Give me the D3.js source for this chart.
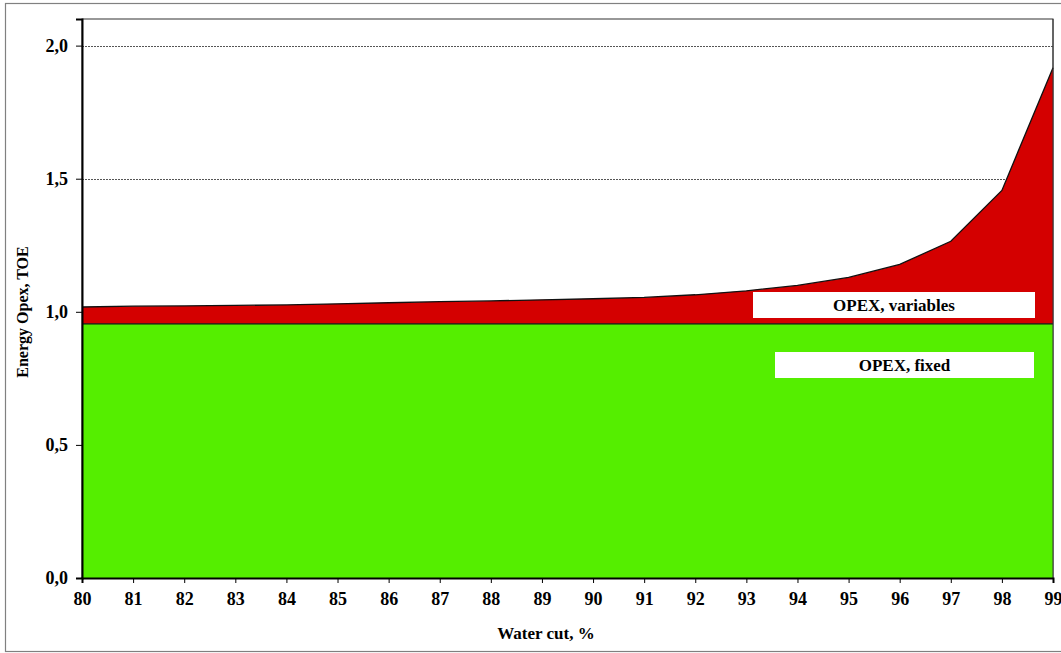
<!DOCTYPE html>
<html><head><meta charset="utf-8">
<script src="https://cdn.jsdelivr.net/npm/d3@7/dist/d3.min.js"></script>
<style>
html,body{margin:0;padding:0;background:#fff;}
svg{display:block;}
</style></head>
<body>
<svg id="chart" width="1061" height="653"></svg>
<script>
const waterCut = [80,81,82,83,84,85,86,87,88,89,90,91,92,93,94,95,96,97,98,99];
const opexFixed = [0.955,0.955,0.955,0.955,0.955,0.955,0.955,0.955,0.955,0.955,0.955,0.955,0.955,0.955,0.955,0.955,0.955,0.955,0.955,0.955];
const opexVariable = [0.063,0.066,0.067,0.069,0.071,0.075,0.079,0.083,0.086,0.090,0.094,0.099,0.109,0.124,0.144,0.174,0.223,0.310,0.501,0.962];
const yTicks = [0,0.5,1.0,1.5,2.0];
const gridValues = [1.5,2.0];
const seriesNames = ["OPEX, fixed","OPEX, variables"];

const FONT = "Liberation Serif";
const svg = d3.select("#chart");
const m = {left:82, right:1053, top:19, bottom:578};

// outer frame
svg.append("rect").attr("x",5.5).attr("y",3.5).attr("width",1060).attr("height",648)
  .attr("fill","none").attr("stroke","#808080").attr("stroke-width",1.2);

const x = d3.scaleLinear().domain([80,99]).range([m.left,m.right]);
const y = d3.scaleLinear().domain([0,2.1]).range([m.bottom,m.top]);

const rows = waterCut.map((w,i)=>({w, fixed:opexFixed[i], variable:opexVariable[i]}));
const stack = d3.stack().keys(["fixed","variable"]);
const layers = stack(rows);
const colors = ["#55EE00","#D40000"];

// plot border
svg.append("rect").attr("x",m.left).attr("y",m.top).attr("width",m.right-m.left).attr("height",m.bottom-m.top)
  .attr("fill","#fff").attr("stroke","#333").attr("stroke-width",1);

// gridlines
svg.append("g").selectAll("line").data(gridValues).join("line")
  .attr("x1",m.left).attr("x2",m.right).attr("y1",d=>Math.round(y(d))+0.5).attr("y2",d=>Math.round(y(d))+0.5)
  .attr("stroke","#555").attr("stroke-width",1).attr("stroke-dasharray","2,1");

const area = d3.area().x(d=>x(d.data.w)).y0(d=>y(d[0])).y1(d=>y(d[1]));
const line = d3.line().x(d=>x(d.data.w)).y(d=>y(d[1]));

svg.append("g").selectAll("path").data(layers).join("path")
  .attr("d",area).attr("fill",(d,i)=>colors[i]).attr("stroke","none");
svg.append("g").selectAll("path").data(layers).join("path")
  .attr("d",line).attr("fill","none").attr("stroke","#111").attr("stroke-width",1.3);

// right border redraw
svg.append("line").attr("x1",m.right).attr("x2",m.right).attr("y1",m.top).attr("y2",m.bottom)
  .attr("stroke","#333").attr("stroke-width",1);

// axes
const xAxis = d3.axisBottom(x).tickValues(waterCut).tickFormat(d3.format("d")).tickSize(5);
const gx = svg.append("g").attr("transform",`translate(0,${m.bottom})`).call(xAxis)
  .attr("font-family",FONT).attr("font-size",18);
gx.select(".domain").attr("stroke","#000").attr("stroke-width",2);
gx.selectAll(".tick line").attr("stroke","#000");
gx.selectAll("text").attr("font-family",FONT).attr("font-size",18).attr("font-weight","bold")
  .attr("fill","#000").attr("dy","1.05em");

const yAxis = d3.axisLeft(y).tickValues(yTicks).tickFormat(d=>d3.format(".1f")(d).replace(".",",")).tickSize(6).tickPadding(8);
const gy = svg.append("g").attr("transform",`translate(${m.left},0)`).call(yAxis)
  .attr("font-family",FONT).attr("font-size",18);
gy.select(".domain").attr("stroke","#000").attr("stroke-width",2);
gy.selectAll(".tick line").attr("stroke","#000");
gy.selectAll("text").attr("font-family",FONT).attr("font-size",18).attr("font-weight","bold").attr("fill","#000");

// axis titles
svg.append("text").attr("x",546).attr("y",639).attr("text-anchor","middle")
  .attr("font-family",FONT).attr("font-size",17).attr("font-weight","bold").attr("fill","#000").text("Water cut, %");
svg.append("text").attr("transform","translate(28,312) rotate(-90)").attr("text-anchor","middle")
  .attr("font-family",FONT).attr("font-size",16).attr("font-weight","bold").attr("fill","#000").text("Energy Opex, TOE");

// in-chart labels
const labels = [
  {name:seriesNames[1], x0:753, x1:1035, y0:292, y1:318},
  {name:seriesNames[0], x0:775, x1:1034, y0:352, y1:378}
];
const lg = svg.append("g").selectAll("g").data(labels).join("g");
lg.append("rect").attr("x",d=>d.x0).attr("y",d=>d.y0).attr("width",d=>d.x1-d.x0).attr("height",d=>d.y1-d.y0).attr("fill","#fff");
lg.append("text").attr("x",d=>(d.x0+d.x1)/2).attr("y",d=>(d.y0+d.y1)/2+6).attr("text-anchor","middle")
  .attr("font-family",FONT).attr("font-size",17).attr("font-weight","bold").attr("fill","#000").text(d=>d.name);
</script>
</body></html>
